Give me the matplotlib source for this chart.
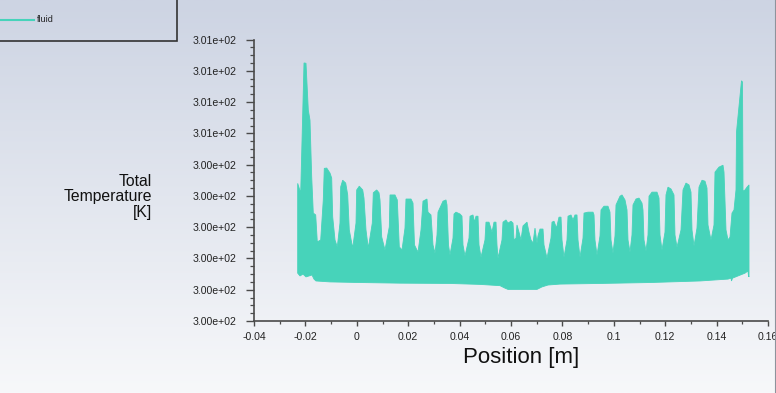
import numpy as np
import matplotlib
matplotlib.use("Agg")
import matplotlib.pyplot as plt
from matplotlib.lines import Line2D
from matplotlib.patches import Rectangle
from matplotlib.ticker import FixedLocator, FuncFormatter, MultipleLocator

plt.rcParams['font.family'] = ['Liberation Sans', 'DejaVu Sans']

# ---- data ----
series_name = "fluid"
x_label = "Position [m]"
y_label = "Total\nTemperature\n[K]"
x_ticks = [-0.04, -0.02, 0, 0.02, 0.04, 0.06, 0.08, 0.1, 0.12, 0.14, 0.16]
y_ticks = [300.0, 300.1, 300.2, 300.3, 300.4, 300.5, 300.6, 300.7, 300.8, 300.9]

# upper envelope of the densely oscillating temperature signal
upper_x = [-0.02300, -0.02183, -0.02054, -0.01977, -0.01887, -0.01821, -0.01755, -0.01693, -0.01599, -0.01537,
           -0.01405, -0.01304, -0.01265, -0.01171, -0.01043, -0.00977, -0.00938, -0.00848, -0.00759, -0.00654,
           -0.00626, -0.00549, -0.00432, -0.00354, -0.00292, -0.00160, -0.00031, -0.00004, 0.00097, 0.00230,
           0.00280, 0.00358, 0.00447, 0.00603, 0.00642, 0.00774, 0.00864, 0.00903, 0.00969, 0.01097,
           0.01265, 0.01292, 0.01486, 0.01576, 0.01654, 0.01759, 0.01875, 0.01914, 0.02109, 0.02187,
           0.02245, 0.02381, 0.02498, 0.02576, 0.02731, 0.02770, 0.02887, 0.02965, 0.03043, 0.03121,
           0.03160, 0.03354, 0.03471, 0.03510, 0.03568, 0.03626, 0.03743, 0.03782, 0.03860, 0.04016,
           0.04093, 0.04132, 0.04210, 0.04366, 0.04405, 0.04521, 0.04580, 0.04638, 0.04716, 0.04755,
           0.04833, 0.04988, 0.05027, 0.05144, 0.05261, 0.05339, 0.05416, 0.05455, 0.05494, 0.05650,
           0.05689, 0.05805, 0.05883, 0.06000, 0.06078, 0.06117, 0.06195, 0.06233, 0.06311, 0.06389,
           0.06467, 0.06545, 0.06623, 0.06700, 0.06778, 0.06856, 0.06934, 0.07012, 0.07051, 0.07128,
           0.07245, 0.07284, 0.07401, 0.07556, 0.07595, 0.07673, 0.07770, 0.07868, 0.07946, 0.07984,
           0.08062, 0.08179, 0.08218, 0.08335, 0.08412, 0.08490, 0.08568, 0.08607, 0.08685, 0.08802,
           0.08841, 0.08996, 0.09191, 0.09230, 0.09268, 0.09346, 0.09463, 0.09502, 0.09619, 0.09774,
           0.09852, 0.09891, 0.09969, 0.10047, 0.10086, 0.10241, 0.10319, 0.10436, 0.10514, 0.10553,
           0.10630, 0.10708, 0.10747, 0.10864, 0.10981, 0.11097, 0.11136, 0.11175, 0.11253, 0.11331,
           0.11370, 0.11486, 0.11681, 0.11759, 0.11798, 0.11875, 0.11992, 0.12031, 0.12109, 0.12226,
           0.12342, 0.12381, 0.12459, 0.12615, 0.12693, 0.12809, 0.12926, 0.13004, 0.13043, 0.13121,
           0.13237, 0.13315, 0.13432, 0.13549, 0.13626, 0.13665, 0.13782, 0.13899, 0.13938, 0.14093,
           0.14249, 0.14288, 0.14366, 0.14444, 0.14521, 0.14599, 0.14677, 0.14755, 0.14774, 0.14969,
           0.15008, 0.15027, 0.15105, 0.15183, 0.15261]
upper_y = [300.440, 300.409, 300.825, 300.824, 300.674, 300.642, 300.461, 300.345, 300.339, 300.253,
           300.259, 300.387, 300.488, 300.489, 300.473, 300.457, 300.333, 300.259, 300.237, 300.313,
           300.429, 300.450, 300.441, 300.403, 300.291, 300.233, 300.313, 300.419, 300.431, 300.419,
           300.393, 300.291, 300.233, 300.313, 300.410, 300.419, 300.410, 300.387, 300.269, 300.227,
           300.301, 300.403, 300.403, 300.387, 300.237, 300.227, 300.297, 300.390, 300.390, 300.377,
           300.243, 300.220, 300.291, 300.383, 300.390, 300.348, 300.339, 300.243, 300.217, 300.275,
           300.348, 300.383, 300.387, 300.371, 300.243, 300.211, 300.265, 300.342, 300.348, 300.342,
           300.335, 300.243, 300.208, 300.265, 300.335, 300.339, 300.316, 300.335, 300.335, 300.243,
           300.204, 300.259, 300.316, 300.316, 300.284, 300.316, 300.316, 300.243, 300.201, 300.259,
           300.316, 300.323, 300.313, 300.319, 300.313, 300.259, 300.265, 300.307, 300.284, 300.259,
           300.304, 300.310, 300.316, 300.284, 300.259, 300.249, 300.297, 300.249, 300.272, 300.294,
           300.294, 300.243, 300.201, 300.265, 300.316, 300.319, 300.297, 300.332, 300.332, 300.259,
           300.204, 300.259, 300.335, 300.339, 300.323, 300.339, 300.339, 300.259, 300.204, 300.265,
           300.345, 300.348, 300.348, 300.339, 300.259, 300.211, 300.272, 300.355, 300.367, 300.367,
           300.348, 300.259, 300.217, 300.272, 300.371, 300.399, 300.403, 300.387, 300.355, 300.259,
           300.220, 300.275, 300.371, 300.390, 300.393, 300.377, 300.355, 300.259, 300.224, 300.275,
           300.399, 300.412, 300.412, 300.393, 300.275, 300.227, 300.284, 300.403, 300.428, 300.422,
           300.403, 300.275, 300.236, 300.291, 300.419, 300.441, 300.435, 300.412, 300.291, 300.240,
           300.297, 300.428, 300.450, 300.447, 300.425, 300.307, 300.259, 300.307, 300.476, 300.492,
           300.498, 300.476, 300.291, 300.259, 300.268, 300.345, 300.355, 300.419, 300.604, 300.768,
           300.764, 300.415, 300.419, 300.428, 300.435]

# lower envelope
lower_x = [-0.02300, -0.02210, -0.02093, -0.01977, -0.01860, -0.01743, -0.01665, -0.01588, -0.01043, 0.00125,
           0.01681, 0.03626, 0.04794, 0.05572, 0.05767, 0.05883, 0.07012, 0.07206, 0.07440, 0.07907,
           0.09463, 0.11409, 0.13354, 0.14444, 0.14560, 0.14580, 0.14619, 0.15105, 0.15222, 0.15241,
           0.15261]
lower_y = [300.153, 300.144, 300.150, 300.141, 300.144, 300.147, 300.134, 300.128, 300.125, 300.123,
           300.121, 300.120, 300.117, 300.113, 300.105, 300.101, 300.101, 300.109, 300.115, 300.118,
           300.120, 300.123, 300.128, 300.134, 300.137, 300.128, 300.137, 300.153, 300.160, 300.144,
           300.141]

# ---- figure ----
W, H = 776, 393
fig = plt.figure(figsize=(W / 100, H / 100), dpi=100)

# background gradient
bg = fig.add_axes([0, 0, 1, 1], zorder=0)
top_c = np.array([205, 212, 227]) / 255
bot_c = np.array([247, 248, 250]) / 255
t = np.linspace(0, 1, 256)[:, None]
grad = top_c[None, :] * (1 - t) + bot_c[None, :] * t
bg.imshow(grad[:, None, :], aspect='auto', extent=[0, 1, 0, 1], interpolation='bilinear')
bg.set_axis_off()

ax = fig.add_axes([254 / W, 1 - 321 / H, 514 / W, (321 - 39.5) / H], zorder=1)
ax.patch.set_alpha(0)

color = '#47d3ba'
px = list(upper_x) + list(lower_x[::-1])
py = list(upper_y) + list(lower_y[::-1])
ax.fill(px, py, color=color, lw=0.6, ec=color)

ax.set_xlim(-0.04, 0.16)
ax.set_ylim(300.0, 300.9)

ax.xaxis.set_major_locator(FixedLocator(x_ticks))
ax.xaxis.set_minor_locator(MultipleLocator(0.01))
ax.xaxis.set_major_formatter(FuncFormatter(lambda v, p: '{:g}'.format(round(v, 6))))
ax.yaxis.set_major_locator(FixedLocator(y_ticks))
ax.yaxis.set_minor_locator(MultipleLocator(0.025))
ax.yaxis.set_major_formatter(FuncFormatter(lambda v, p: '%.2e' % round(v, 6)))

spc = '#4a4a4a'
for s in ['top', 'right']:
    ax.spines[s].set_visible(False)
for s in ['left', 'bottom']:
    ax.spines[s].set_color(spc)
    ax.spines[s].set_linewidth(1.2)

ax.tick_params(axis='y', which='major', length=5.8, width=1.0, color=spc, labelsize=7.6,
               labelcolor='#222222', pad=7.0)
ax.tick_params(axis='y', which='minor', length=2.9, width=0.9, color=spc)
ax.tick_params(axis='x', which='major', length=3.6, width=1.0, color=spc, labelsize=7.6,
               labelcolor='#222222', pad=4.0)
ax.tick_params(axis='x', which='minor', length=1.8, width=0.9, color=spc)

fig.text(521 / W, 1 - 358 / H, x_label, ha='center', va='center', fontsize=16, color='#111111')
fig.text(152 / W, 1 - 197 / H, y_label, ha='right', va='center', fontsize=11.3,
         color='#111111', linespacing=1.0)

# legend box
fig.add_artist(Rectangle((-2 / W, 1 - 41 / H), 179 / W, 43 / H, transform=fig.transFigure,
                         fill=False, ec='#333333', lw=1.2))
fig.add_artist(Line2D([0, 34 / W], [1 - 20 / H, 1 - 20 / H], transform=fig.transFigure,
                      color=color, lw=1.5))
fig.text(37 / W, 1 - 20 / H, series_name, ha='left', va='center', fontsize=6.5, color='#222222')

# right edge line
fig.add_artist(Line2D([774.5 / W, 774.5 / W], [0, 1], transform=fig.transFigure,
                      color='#8e939c', lw=0.8))

fig.savefig('out.png', dpi=100)
